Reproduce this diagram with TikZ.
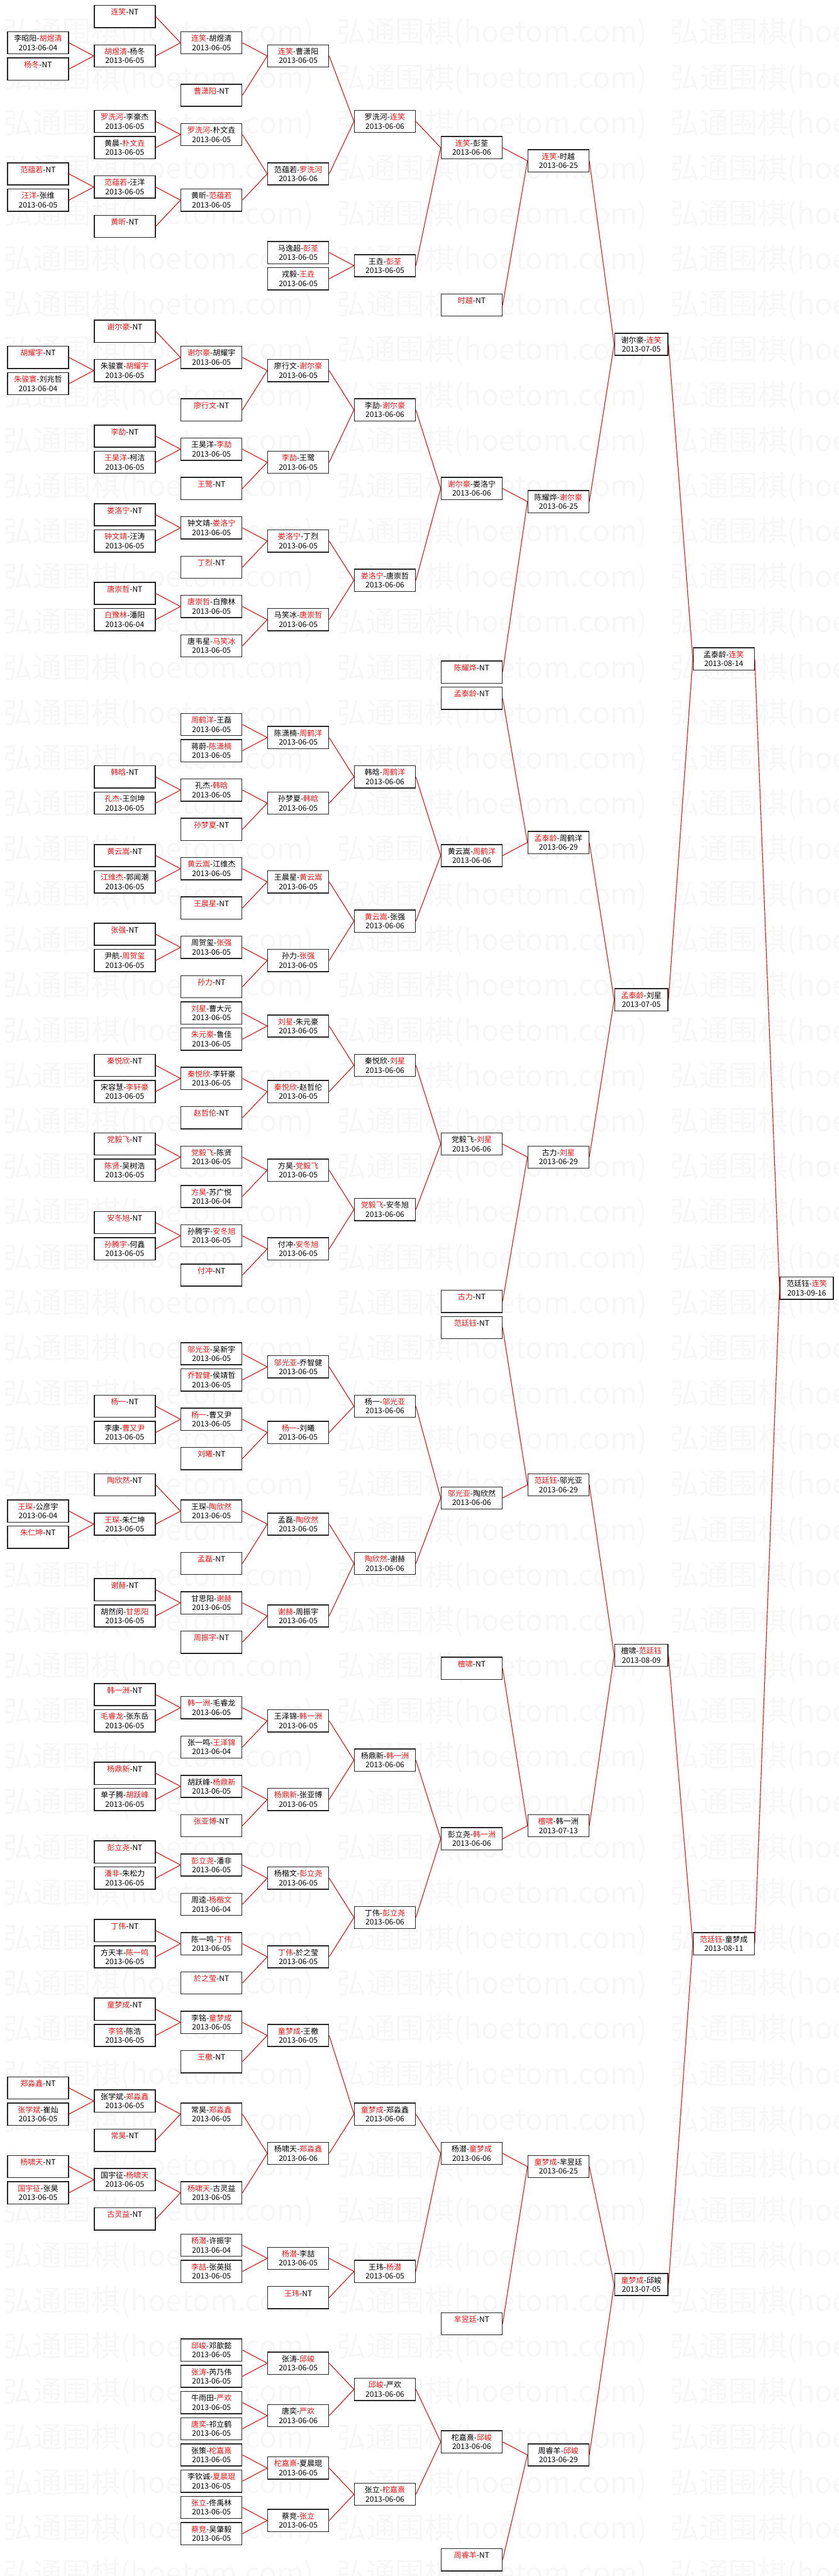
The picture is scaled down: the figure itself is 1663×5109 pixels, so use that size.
\documentclass[tikz,border=0pt]{standalone}
\usepackage{fontspec}
\setmainfont{Noto Sans CJK SC}
\usepackage{xcolor}
\usepackage{tikz}
\usetikzlibrary{positioning}
\definecolor{winred}{RGB}{235,20,20}
\definecolor{markgray}{RGB}{247,247,247}
\newcommand{\win}[1]{\textcolor{winred}{#1}}
\newcommand{\bxs}{\rule[-3pt]{0pt}{18pt}}
\newcommand{\pair}[2]{\bxs#1\\\bxs#2}
\newcommand{\bye}[1]{\pair{\win{#1}-NT}{}}

\begin{document}
\begin{tikzpicture}[
  x=1pt, y=-26pt,
  font=\fontsize{15}{18}\selectfont,
  every node/.style={align=center},
  matchbox/.style={draw=black!85, line width=1.8pt, fill=white, minimum width=121pt,
                   minimum height=44pt, inner sep=0pt, anchor=north west, yshift=-10pt},
  narrowbox/.style={matchbox, minimum width=106pt},
  winline/.style={draw=winred, line width=1.4pt},
  watermark/.style={text=markgray, font=\fontsize{58}{58}\selectfont, anchor=west, inner sep=0pt},
]
\useasboundingbox (0pt,0pt) rectangle (1663pt,-5109pt);

%% Watermark rows
\begin{scope}[x=1pt, y=-1pt]
  \clip (0,0) rectangle (1663,5109);
  \foreach \k in {0,...,56}
    \foreach \c in {0,1,2}
      \node[watermark] (wm\k-\c) at ({7+661*\c},{66+90*\k}) {弘通围棋(hoetom.com)};
\end{scope}

%% Column 0
\node[matchbox] (m0r2) at (14,2) {\pair{李昭阳-\win{胡煜清}}{2013-06-04}};
\node[matchbox] (m0r4) at (14,4) {\bye{杨冬}};
\node[matchbox] (m0r12) at (14,12) {\bye{范蕴若}};
\node[matchbox] (m0r14) at (14,14) {\pair{\win{汪洋}-张维}{2013-06-05}};
\node[matchbox] (m0r26) at (14,26) {\bye{胡耀宇}};
\node[matchbox] (m0r28) at (14,28) {\pair{\win{朱骏寰}-刘兆哲}{2013-06-04}};
\node[matchbox] (m0r114) at (14,114) {\pair{\win{王琛}-公彦宇}{2013-06-04}};
\node[matchbox] (m0r116) at (14,116) {\bye{朱仁坤}};
\node[matchbox] (m0r158) at (14,158) {\bye{郑淼鑫}};
\node[matchbox] (m0r160) at (14,160) {\pair{\win{张学斌}-崔灿}{2013-06-05}};
\node[matchbox] (m0r164) at (14,164) {\bye{杨啸天}};
\node[matchbox] (m0r166) at (14,166) {\pair{\win{国宇征}-张昊}{2013-06-05}};

%% Column 1
\node[matchbox] (m1r0) at (186,0) {\bye{连笑}};
\node[matchbox] (m1r3) at (186,3) {\pair{\win{胡煜清}-杨冬}{2013-06-05}};
\node[matchbox] (m1r8) at (186,8) {\pair{\win{罗洗河}-李豪杰}{2013-06-05}};
\node[matchbox] (m1r10) at (186,10) {\pair{黄晨-\win{朴文垚}}{2013-06-05}};
\node[matchbox] (m1r13) at (186,13) {\pair{\win{范蕴若}-汪洋}{2013-06-05}};
\node[matchbox] (m1r16) at (186,16) {\bye{黄昕}};
\node[matchbox] (m1r24) at (186,24) {\bye{谢尔豪}};
\node[matchbox] (m1r27) at (186,27) {\pair{朱骏寰-\win{胡耀宇}}{2013-06-05}};
\node[matchbox] (m1r32) at (186,32) {\bye{李劼}};
\node[matchbox] (m1r34) at (186,34) {\pair{\win{王昊洋}-柯洁}{2013-06-05}};
\node[matchbox] (m1r38) at (186,38) {\bye{娄洛宁}};
\node[matchbox] (m1r40) at (186,40) {\pair{\win{钟文靖}-汪涛}{2013-06-05}};
\node[matchbox] (m1r44) at (186,44) {\bye{唐崇哲}};
\node[matchbox] (m1r46) at (186,46) {\pair{\win{白豫林}-潘阳}{2013-06-04}};
\node[matchbox] (m1r58) at (186,58) {\bye{韩晗}};
\node[matchbox] (m1r60) at (186,60) {\pair{\win{孔杰}-王剑坤}{2013-06-05}};
\node[matchbox] (m1r64) at (186,64) {\bye{黄云嵩}};
\node[matchbox] (m1r66) at (186,66) {\pair{\win{江维杰}-郭闻潮}{2013-06-05}};
\node[matchbox] (m1r70) at (186,70) {\bye{张强}};
\node[matchbox] (m1r72) at (186,72) {\pair{尹航-\win{周贺玺}}{2013-06-05}};
\node[matchbox] (m1r80) at (186,80) {\bye{秦悦欣}};
\node[matchbox] (m1r82) at (186,82) {\pair{宋容慧-\win{李轩豪}}{2013-06-05}};
\node[matchbox] (m1r86) at (186,86) {\bye{党毅飞}};
\node[matchbox] (m1r88) at (186,88) {\pair{\win{陈贤}-吴树浩}{2013-06-05}};
\node[matchbox] (m1r92) at (186,92) {\bye{安冬旭}};
\node[matchbox] (m1r94) at (186,94) {\pair{\win{孙腾宇}-何鑫}{2013-06-05}};
\node[matchbox] (m1r106) at (186,106) {\bye{杨一}};
\node[matchbox] (m1r108) at (186,108) {\pair{李康-\win{曹又尹}}{2013-06-05}};
\node[matchbox] (m1r112) at (186,112) {\bye{陶欣然}};
\node[matchbox] (m1r115) at (186,115) {\pair{\win{王琛}-朱仁坤}{2013-06-05}};
\node[matchbox] (m1r120) at (186,120) {\bye{谢赫}};
\node[matchbox] (m1r122) at (186,122) {\pair{胡然闵-\win{甘思阳}}{2013-06-05}};
\node[matchbox] (m1r128) at (186,128) {\bye{韩一洲}};
\node[matchbox] (m1r130) at (186,130) {\pair{\win{毛睿龙}-张东岳}{2013-06-05}};
\node[matchbox] (m1r134) at (186,134) {\bye{杨鼎新}};
\node[matchbox] (m1r136) at (186,136) {\pair{单子腾-\win{胡跃峰}}{2013-06-05}};
\node[matchbox] (m1r140) at (186,140) {\bye{彭立尧}};
\node[matchbox] (m1r142) at (186,142) {\pair{\win{潘非}-朱松力}{2013-06-05}};
\node[matchbox] (m1r146) at (186,146) {\bye{丁伟}};
\node[matchbox] (m1r148) at (186,148) {\pair{方天丰-\win{陈一鸣}}{2013-06-05}};
\node[matchbox] (m1r152) at (186,152) {\bye{童梦成}};
\node[matchbox] (m1r154) at (186,154) {\pair{\win{李铭}-陈浩}{2013-06-05}};
\node[matchbox] (m1r159) at (186,159) {\pair{张学斌-\win{郑淼鑫}}{2013-06-05}};
\node[matchbox] (m1r162) at (186,162) {\bye{常昊}};
\node[matchbox] (m1r165) at (186,165) {\pair{国宇征-\win{杨啸天}}{2013-06-05}};
\node[matchbox] (m1r168) at (186,168) {\bye{古灵益}};

%% Column 2
\node[matchbox] (m2r2) at (358,2) {\pair{\win{连笑}-胡煜清}{2013-06-05}};
\node[matchbox] (m2r6) at (358,6) {\bye{曹潇阳}};
\node[matchbox] (m2r9) at (358,9) {\pair{\win{罗洗河}-朴文垚}{2013-06-05}};
\node[matchbox] (m2r14) at (358,14) {\pair{黄昕-\win{范蕴若}}{2013-06-05}};
\node[matchbox] (m2r26) at (358,26) {\pair{\win{谢尔豪}-胡耀宇}{2013-06-05}};
\node[matchbox] (m2r30) at (358,30) {\bye{廖行文}};
\node[matchbox] (m2r33) at (358,33) {\pair{王昊洋-\win{李劼}}{2013-06-05}};
\node[matchbox] (m2r36) at (358,36) {\bye{王鹭}};
\node[matchbox] (m2r39) at (358,39) {\pair{钟文靖-\win{娄洛宁}}{2013-06-05}};
\node[matchbox] (m2r42) at (358,42) {\bye{丁烈}};
\node[matchbox] (m2r45) at (358,45) {\pair{\win{唐崇哲}-白豫林}{2013-06-05}};
\node[matchbox] (m2r48) at (358,48) {\pair{唐韦星-\win{马笑冰}}{2013-06-05}};
\node[matchbox] (m2r54) at (358,54) {\pair{\win{周鹤洋}-王磊}{2013-06-05}};
\node[matchbox] (m2r56) at (358,56) {\pair{蒋蔚-\win{陈潇楠}}{2013-06-05}};
\node[matchbox] (m2r59) at (358,59) {\pair{孔杰-\win{韩晗}}{2013-06-05}};
\node[matchbox] (m2r62) at (358,62) {\bye{孙梦夏}};
\node[matchbox] (m2r65) at (358,65) {\pair{\win{黄云嵩}-江维杰}{2013-06-05}};
\node[matchbox] (m2r68) at (358,68) {\bye{王晨星}};
\node[matchbox] (m2r71) at (358,71) {\pair{周贺玺-\win{张强}}{2013-06-05}};
\node[matchbox] (m2r74) at (358,74) {\bye{孙力}};
\node[matchbox] (m2r76) at (358,76) {\pair{\win{刘星}-曹大元}{2013-06-05}};
\node[matchbox] (m2r78) at (358,78) {\pair{\win{朱元豪}-鲁佳}{2013-06-05}};
\node[matchbox] (m2r81) at (358,81) {\pair{\win{秦悦欣}-李轩豪}{2013-06-05}};
\node[matchbox] (m2r84) at (358,84) {\bye{赵哲伦}};
\node[matchbox] (m2r87) at (358,87) {\pair{\win{党毅飞}-陈贤}{2013-06-05}};
\node[matchbox] (m2r90) at (358,90) {\pair{\win{方昊}-苏广悦}{2013-06-04}};
\node[matchbox] (m2r93) at (358,93) {\pair{孙腾宇-\win{安冬旭}}{2013-06-05}};
\node[matchbox] (m2r96) at (358,96) {\bye{付冲}};
\node[matchbox] (m2r102) at (358,102) {\pair{\win{邬光亚}-吴新宇}{2013-06-05}};
\node[matchbox] (m2r104) at (358,104) {\pair{\win{乔智健}-侯靖哲}{2013-06-05}};
\node[matchbox] (m2r107) at (358,107) {\pair{\win{杨一}-曹又尹}{2013-06-05}};
\node[matchbox] (m2r110) at (358,110) {\bye{刘曦}};
\node[matchbox] (m2r114) at (358,114) {\pair{王琛-\win{陶欣然}}{2013-06-05}};
\node[matchbox] (m2r118) at (358,118) {\bye{孟磊}};
\node[matchbox] (m2r121) at (358,121) {\pair{甘思阳-\win{谢赫}}{2013-06-05}};
\node[matchbox] (m2r124) at (358,124) {\bye{周振宇}};
\node[matchbox] (m2r129) at (358,129) {\pair{\win{韩一洲}-毛睿龙}{2013-06-05}};
\node[matchbox] (m2r132) at (358,132) {\pair{张一鸣-\win{王泽锦}}{2013-06-04}};
\node[matchbox] (m2r135) at (358,135) {\pair{胡跃峰-\win{杨鼎新}}{2013-06-05}};
\node[matchbox] (m2r138) at (358,138) {\bye{张亚博}};
\node[matchbox] (m2r141) at (358,141) {\pair{\win{彭立尧}-潘非}{2013-06-05}};
\node[matchbox] (m2r144) at (358,144) {\pair{周逵-\win{杨楷文}}{2013-06-04}};
\node[matchbox] (m2r147) at (358,147) {\pair{陈一鸣-\win{丁伟}}{2013-06-05}};
\node[matchbox] (m2r150) at (358,150) {\bye{於之莹}};
\node[matchbox] (m2r153) at (358,153) {\pair{李铭-\win{童梦成}}{2013-06-05}};
\node[matchbox] (m2r156) at (358,156) {\bye{王檄}};
\node[matchbox] (m2r160) at (358,160) {\pair{常昊-\win{郑淼鑫}}{2013-06-05}};
\node[matchbox] (m2r166) at (358,166) {\pair{\win{杨啸天}-古灵益}{2013-06-05}};
\node[matchbox] (m2r170) at (358,170) {\pair{\win{杨潜}-许振宇}{2013-06-04}};
\node[matchbox] (m2r172) at (358,172) {\pair{\win{李喆}-张英挺}{2013-06-05}};
\node[matchbox] (m2r178) at (358,178) {\pair{\win{邱峻}-邓歆懿}{2013-06-05}};
\node[matchbox] (m2r180) at (358,180) {\pair{\win{张涛}-芮乃伟}{2013-06-05}};
\node[matchbox] (m2r182) at (358,182) {\pair{牛雨田-\win{严欢}}{2013-06-05}};
\node[matchbox] (m2r184) at (358,184) {\pair{\win{唐奕}-祁立鹤}{2013-06-05}};
\node[matchbox] (m2r186) at (358,186) {\pair{张策-\win{柁嘉熹}}{2013-06-05}};
\node[matchbox] (m2r188) at (358,188) {\pair{李钦诚-\win{夏晨琨}}{2013-06-05}};
\node[matchbox] (m2r190) at (358,190) {\pair{\win{张立}-佟禹林}{2013-06-05}};
\node[matchbox] (m2r192) at (358,192) {\pair{\win{蔡竞}-吴肇毅}{2013-06-05}};

%% Column 3
\node[matchbox] (m3r3) at (530,3) {\pair{\win{连笑}-曹潇阳}{2013-06-05}};
\node[matchbox] (m3r12) at (530,12) {\pair{范蕴若-\win{罗洗河}}{2013-06-06}};
\node[matchbox] (m3r18) at (530,18) {\pair{马逸超-\win{彭荃}}{2013-06-05}};
\node[matchbox] (m3r20) at (530,20) {\pair{戎毅-\win{王垚}}{2013-06-05}};
\node[matchbox] (m3r27) at (530,27) {\pair{廖行文-\win{谢尔豪}}{2013-06-05}};
\node[matchbox] (m3r34) at (530,34) {\pair{\win{李劼}-王鹭}{2013-06-05}};
\node[matchbox] (m3r40) at (530,40) {\pair{\win{娄洛宁}-丁烈}{2013-06-05}};
\node[matchbox] (m3r46) at (530,46) {\pair{马笑冰-\win{唐崇哲}}{2013-06-05}};
\node[matchbox] (m3r55) at (530,55) {\pair{陈潇楠-\win{周鹤洋}}{2013-06-05}};
\node[matchbox] (m3r60) at (530,60) {\pair{孙梦夏-\win{韩晗}}{2013-06-05}};
\node[matchbox] (m3r66) at (530,66) {\pair{王晨星-\win{黄云嵩}}{2013-06-05}};
\node[matchbox] (m3r72) at (530,72) {\pair{孙力-\win{张强}}{2013-06-05}};
\node[matchbox] (m3r77) at (530,77) {\pair{\win{刘星}-朱元豪}{2013-06-05}};
\node[matchbox] (m3r82) at (530,82) {\pair{\win{秦悦欣}-赵哲伦}{2013-06-05}};
\node[matchbox] (m3r88) at (530,88) {\pair{方昊-\win{党毅飞}}{2013-06-05}};
\node[matchbox] (m3r94) at (530,94) {\pair{付冲-\win{安冬旭}}{2013-06-05}};
\node[matchbox] (m3r103) at (530,103) {\pair{\win{邬光亚}-乔智健}{2013-06-05}};
\node[matchbox] (m3r108) at (530,108) {\pair{\win{杨一}-刘曦}{2013-06-05}};
\node[matchbox] (m3r115) at (530,115) {\pair{孟磊-\win{陶欣然}}{2013-06-05}};
\node[matchbox] (m3r122) at (530,122) {\pair{\win{谢赫}-周振宇}{2013-06-05}};
\node[matchbox] (m3r130) at (530,130) {\pair{王泽锦-\win{韩一洲}}{2013-06-05}};
\node[matchbox] (m3r136) at (530,136) {\pair{\win{杨鼎新}-张亚博}{2013-06-05}};
\node[matchbox] (m3r142) at (530,142) {\pair{杨楷文-\win{彭立尧}}{2013-06-05}};
\node[matchbox] (m3r148) at (530,148) {\pair{\win{丁伟}-於之莹}{2013-06-05}};
\node[matchbox] (m3r154) at (530,154) {\pair{\win{童梦成}-王檄}{2013-06-05}};
\node[matchbox] (m3r163) at (530,163) {\pair{杨啸天-\win{郑淼鑫}}{2013-06-06}};
\node[matchbox] (m3r171) at (530,171) {\pair{\win{杨潜}-李喆}{2013-06-05}};
\node[matchbox] (m3r174) at (530,174) {\bye{王玮}};
\node[matchbox] (m3r179) at (530,179) {\pair{张涛-\win{邱峻}}{2013-06-05}};
\node[matchbox] (m3r183) at (530,183) {\pair{唐奕-\win{严欢}}{2013-06-06}};
\node[matchbox] (m3r187) at (530,187) {\pair{\win{柁嘉熹}-夏晨琨}{2013-06-05}};
\node[matchbox] (m3r191) at (530,191) {\pair{蔡竞-\win{张立}}{2013-06-05}};

%% Column 4
\node[matchbox] (m4r8) at (702,8) {\pair{罗洗河-\win{连笑}}{2013-06-06}};
\node[matchbox] (m4r19) at (702,19) {\pair{王垚-\win{彭荃}}{2013-06-05}};
\node[matchbox] (m4r30) at (702,30) {\pair{李劼-\win{谢尔豪}}{2013-06-06}};
\node[matchbox] (m4r43) at (702,43) {\pair{\win{娄洛宁}-唐崇哲}{2013-06-06}};
\node[matchbox] (m4r58) at (702,58) {\pair{韩晗-\win{周鹤洋}}{2013-06-06}};
\node[matchbox] (m4r69) at (702,69) {\pair{\win{黄云嵩}-张强}{2013-06-06}};
\node[matchbox] (m4r80) at (702,80) {\pair{秦悦欣-\win{刘星}}{2013-06-06}};
\node[matchbox] (m4r91) at (702,91) {\pair{\win{党毅飞}-安冬旭}{2013-06-06}};
\node[matchbox] (m4r106) at (702,106) {\pair{杨一-\win{邬光亚}}{2013-06-06}};
\node[matchbox] (m4r118) at (702,118) {\pair{\win{陶欣然}-谢赫}{2013-06-06}};
\node[matchbox] (m4r133) at (702,133) {\pair{杨鼎新-\win{韩一洲}}{2013-06-06}};
\node[matchbox] (m4r145) at (702,145) {\pair{丁伟-\win{彭立尧}}{2013-06-06}};
\node[matchbox] (m4r160) at (702,160) {\pair{\win{童梦成}-郑淼鑫}{2013-06-06}};
\node[matchbox] (m4r172) at (702,172) {\pair{王玮-\win{杨潜}}{2013-06-05}};
\node[matchbox] (m4r181) at (702,181) {\pair{\win{邱峻}-严欢}{2013-06-06}};
\node[matchbox] (m4r189) at (702,189) {\pair{张立-\win{柁嘉熹}}{2013-06-06}};

%% Column 5
\node[matchbox] (m5r10) at (874,10) {\pair{\win{连笑}-彭荃}{2013-06-06}};
\node[matchbox] (m5r22) at (874,22) {\bye{时越}};
\node[matchbox] (m5r36) at (874,36) {\pair{\win{谢尔豪}-娄洛宁}{2013-06-06}};
\node[matchbox] (m5r50) at (874,50) {\bye{陈耀烨}};
\node[matchbox] (m5r52) at (874,52) {\bye{孟泰龄}};
\node[matchbox] (m5r64) at (874,64) {\pair{黄云嵩-\win{周鹤洋}}{2013-06-06}};
\node[matchbox] (m5r86) at (874,86) {\pair{党毅飞-\win{刘星}}{2013-06-06}};
\node[matchbox] (m5r98) at (874,98) {\bye{古力}};
\node[matchbox] (m5r100) at (874,100) {\bye{范廷钰}};
\node[matchbox] (m5r113) at (874,113) {\pair{\win{邬光亚}-陶欣然}{2013-06-06}};
\node[matchbox] (m5r126) at (874,126) {\bye{檀啸}};
\node[matchbox] (m5r139) at (874,139) {\pair{彭立尧-\win{韩一洲}}{2013-06-06}};
\node[matchbox] (m5r163) at (874,163) {\pair{杨潜-\win{童梦成}}{2013-06-06}};
\node[matchbox] (m5r176) at (874,176) {\bye{芈昱廷}};
\node[matchbox] (m5r185) at (874,185) {\pair{柁嘉熹-\win{邱峻}}{2013-06-06}};
\node[matchbox] (m5r194) at (874,194) {\bye{周睿羊}};

%% Column 6
\node[matchbox] (m6r11) at (1046,11) {\pair{\win{连笑}-时越}{2013-06-25}};
\node[matchbox] (m6r37) at (1046,37) {\pair{陈耀烨-\win{谢尔豪}}{2013-06-25}};
\node[matchbox] (m6r63) at (1046,63) {\pair{\win{孟泰龄}-周鹤洋}{2013-06-29}};
\node[matchbox] (m6r87) at (1046,87) {\pair{古力-\win{刘星}}{2013-06-29}};
\node[matchbox] (m6r112) at (1046,112) {\pair{\win{范廷钰}-邬光亚}{2013-06-29}};
\node[matchbox] (m6r138) at (1046,138) {\pair{\win{檀啸}-韩一洲}{2013-07-13}};
\node[matchbox] (m6r164) at (1046,164) {\pair{\win{童梦成}-芈昱廷}{2013-06-25}};
\node[matchbox] (m6r186) at (1046,186) {\pair{周睿羊-\win{邱峻}}{2013-06-29}};

%% Column 7
\node[narrowbox] (m7r25) at (1218,25) {\pair{谢尔豪-\win{连笑}}{2013-07-05}};
\node[narrowbox] (m7r75) at (1218,75) {\pair{\win{孟泰龄}-刘星}{2013-07-05}};
\node[narrowbox] (m7r125) at (1218,125) {\pair{檀啸-\win{范廷钰}}{2013-08-09}};
\node[narrowbox] (m7r173) at (1218,173) {\pair{\win{童梦成}-邱峻}{2013-07-05}};

%% Column 8 and final
\node[matchbox] (m8r49) at (1374,49) {\pair{孟泰龄-\win{连笑}}{2013-08-14}};
\node[matchbox] (m8r147) at (1374,147) {\pair{\win{范廷钰}-童梦成}{2013-08-11}};
\node[narrowbox] (m9r97) at (1546,97) {\pair{范廷钰-\win{连笑}}{2013-09-16}};

%% Connectors
\draw[winline] (m0r2.east) -- (m1r3.west) (m0r4.east) -- (m1r3.west);
\draw[winline] (m0r12.east) -- (m1r13.west) (m0r14.east) -- (m1r13.west);
\draw[winline] (m0r26.east) -- (m1r27.west) (m0r28.east) -- (m1r27.west);
\draw[winline] (m0r114.east) -- (m1r115.west) (m0r116.east) -- (m1r115.west);
\draw[winline] (m0r158.east) -- (m1r159.west) (m0r160.east) -- (m1r159.west);
\draw[winline] (m0r164.east) -- (m1r165.west) (m0r166.east) -- (m1r165.west);

\draw[winline] (m1r0.east) -- (m2r2.west) (m1r3.east) -- (m2r2.west);
\draw[winline] (m1r8.east) -- (m2r9.west) (m1r10.east) -- (m2r9.west);
\draw[winline] (m1r13.east) -- (m2r14.west) (m1r16.east) -- (m2r14.west);
\draw[winline] (m1r24.east) -- (m2r26.west) (m1r27.east) -- (m2r26.west);
\draw[winline] (m1r32.east) -- (m2r33.west) (m1r34.east) -- (m2r33.west);
\draw[winline] (m1r38.east) -- (m2r39.west) (m1r40.east) -- (m2r39.west);
\draw[winline] (m1r44.east) -- (m2r45.west) (m1r46.east) -- (m2r45.west);
\draw[winline] (m1r58.east) -- (m2r59.west) (m1r60.east) -- (m2r59.west);
\draw[winline] (m1r64.east) -- (m2r65.west) (m1r66.east) -- (m2r65.west);
\draw[winline] (m1r70.east) -- (m2r71.west) (m1r72.east) -- (m2r71.west);
\draw[winline] (m1r80.east) -- (m2r81.west) (m1r82.east) -- (m2r81.west);
\draw[winline] (m1r86.east) -- (m2r87.west) (m1r88.east) -- (m2r87.west);
\draw[winline] (m1r92.east) -- (m2r93.west) (m1r94.east) -- (m2r93.west);
\draw[winline] (m1r106.east) -- (m2r107.west) (m1r108.east) -- (m2r107.west);
\draw[winline] (m1r112.east) -- (m2r114.west) (m1r115.east) -- (m2r114.west);
\draw[winline] (m1r120.east) -- (m2r121.west) (m1r122.east) -- (m2r121.west);
\draw[winline] (m1r128.east) -- (m2r129.west) (m1r130.east) -- (m2r129.west);
\draw[winline] (m1r134.east) -- (m2r135.west) (m1r136.east) -- (m2r135.west);
\draw[winline] (m1r140.east) -- (m2r141.west) (m1r142.east) -- (m2r141.west);
\draw[winline] (m1r146.east) -- (m2r147.west) (m1r148.east) -- (m2r147.west);
\draw[winline] (m1r152.east) -- (m2r153.west) (m1r154.east) -- (m2r153.west);
\draw[winline] (m1r159.east) -- (m2r160.west) (m1r162.east) -- (m2r160.west);
\draw[winline] (m1r165.east) -- (m2r166.west) (m1r168.east) -- (m2r166.west);

\draw[winline] (m2r2.east) -- (m3r3.west) (m2r6.east) -- (m3r3.west);
\draw[winline] (m2r9.east) -- (m3r12.west) (m2r14.east) -- (m3r12.west);
\draw[winline] (m2r26.east) -- (m3r27.west) (m2r30.east) -- (m3r27.west);
\draw[winline] (m2r33.east) -- (m3r34.west) (m2r36.east) -- (m3r34.west);
\draw[winline] (m2r39.east) -- (m3r40.west) (m2r42.east) -- (m3r40.west);
\draw[winline] (m2r45.east) -- (m3r46.west) (m2r48.east) -- (m3r46.west);
\draw[winline] (m2r54.east) -- (m3r55.west) (m2r56.east) -- (m3r55.west);
\draw[winline] (m2r59.east) -- (m3r60.west) (m2r62.east) -- (m3r60.west);
\draw[winline] (m2r65.east) -- (m3r66.west) (m2r68.east) -- (m3r66.west);
\draw[winline] (m2r71.east) -- (m3r72.west) (m2r74.east) -- (m3r72.west);
\draw[winline] (m2r76.east) -- (m3r77.west) (m2r78.east) -- (m3r77.west);
\draw[winline] (m2r81.east) -- (m3r82.west) (m2r84.east) -- (m3r82.west);
\draw[winline] (m2r87.east) -- (m3r88.west) (m2r90.east) -- (m3r88.west);
\draw[winline] (m2r93.east) -- (m3r94.west) (m2r96.east) -- (m3r94.west);
\draw[winline] (m2r102.east) -- (m3r103.west) (m2r104.east) -- (m3r103.west);
\draw[winline] (m2r107.east) -- (m3r108.west) (m2r110.east) -- (m3r108.west);
\draw[winline] (m2r114.east) -- (m3r115.west) (m2r118.east) -- (m3r115.west);
\draw[winline] (m2r121.east) -- (m3r122.west) (m2r124.east) -- (m3r122.west);
\draw[winline] (m2r129.east) -- (m3r130.west) (m2r132.east) -- (m3r130.west);
\draw[winline] (m2r135.east) -- (m3r136.west) (m2r138.east) -- (m3r136.west);
\draw[winline] (m2r141.east) -- (m3r142.west) (m2r144.east) -- (m3r142.west);
\draw[winline] (m2r147.east) -- (m3r148.west) (m2r150.east) -- (m3r148.west);
\draw[winline] (m2r153.east) -- (m3r154.west) (m2r156.east) -- (m3r154.west);
\draw[winline] (m2r160.east) -- (m3r163.west) (m2r166.east) -- (m3r163.west);
\draw[winline] (m2r170.east) -- (m3r171.west) (m2r172.east) -- (m3r171.west);
\draw[winline] (m2r178.east) -- (m3r179.west) (m2r180.east) -- (m3r179.west);
\draw[winline] (m2r182.east) -- (m3r183.west) (m2r184.east) -- (m3r183.west);
\draw[winline] (m2r186.east) -- (m3r187.west) (m2r188.east) -- (m3r187.west);
\draw[winline] (m2r190.east) -- (m3r191.west) (m2r192.east) -- (m3r191.west);

\draw[winline] (m3r3.east) -- (m4r8.west) (m3r12.east) -- (m4r8.west);
\draw[winline] (m3r18.east) -- (m4r19.west) (m3r20.east) -- (m4r19.west);
\draw[winline] (m3r27.east) -- (m4r30.west) (m3r34.east) -- (m4r30.west);
\draw[winline] (m3r40.east) -- (m4r43.west) (m3r46.east) -- (m4r43.west);
\draw[winline] (m3r55.east) -- (m4r58.west) (m3r60.east) -- (m4r58.west);
\draw[winline] (m3r66.east) -- (m4r69.west) (m3r72.east) -- (m4r69.west);
\draw[winline] (m3r77.east) -- (m4r80.west) (m3r82.east) -- (m4r80.west);
\draw[winline] (m3r88.east) -- (m4r91.west) (m3r94.east) -- (m4r91.west);
\draw[winline] (m3r103.east) -- (m4r106.west) (m3r108.east) -- (m4r106.west);
\draw[winline] (m3r115.east) -- (m4r118.west) (m3r122.east) -- (m4r118.west);
\draw[winline] (m3r130.east) -- (m4r133.west) (m3r136.east) -- (m4r133.west);
\draw[winline] (m3r142.east) -- (m4r145.west) (m3r148.east) -- (m4r145.west);
\draw[winline] (m3r154.east) -- (m4r160.west) (m3r163.east) -- (m4r160.west);
\draw[winline] (m3r171.east) -- (m4r172.west) (m3r174.east) -- (m4r172.west);
\draw[winline] (m3r179.east) -- (m4r181.west) (m3r183.east) -- (m4r181.west);
\draw[winline] (m3r187.east) -- (m4r189.west) (m3r191.east) -- (m4r189.west);

\draw[winline] (m4r8.east) -- (m5r10.west) (m4r19.east) -- (m5r10.west);
\draw[winline] (m4r30.east) -- (m5r36.west) (m4r43.east) -- (m5r36.west);
\draw[winline] (m4r58.east) -- (m5r64.west) (m4r69.east) -- (m5r64.west);
\draw[winline] (m4r80.east) -- (m5r86.west) (m4r91.east) -- (m5r86.west);
\draw[winline] (m4r106.east) -- (m5r113.west) (m4r118.east) -- (m5r113.west);
\draw[winline] (m4r133.east) -- (m5r139.west) (m4r145.east) -- (m5r139.west);
\draw[winline] (m4r160.east) -- (m5r163.west) (m4r172.east) -- (m5r163.west);
\draw[winline] (m4r181.east) -- (m5r185.west) (m4r189.east) -- (m5r185.west);

\draw[winline] (m5r10.east) -- (m6r11.west) (m5r22.east) -- (m6r11.west);
\draw[winline] (m5r36.east) -- (m6r37.west) (m5r50.east) -- (m6r37.west);
\draw[winline] (m5r52.east) -- (m6r63.west) (m5r64.east) -- (m6r63.west);
\draw[winline] (m5r86.east) -- (m6r87.west) (m5r98.east) -- (m6r87.west);
\draw[winline] (m5r100.east) -- (m6r112.west) (m5r113.east) -- (m6r112.west);
\draw[winline] (m5r126.east) -- (m6r138.west) (m5r139.east) -- (m6r138.west);
\draw[winline] (m5r163.east) -- (m6r164.west) (m5r176.east) -- (m6r164.west);
\draw[winline] (m5r185.east) -- (m6r186.west) (m5r194.east) -- (m6r186.west);

\draw[winline] (m6r11.east) -- (m7r25.west) (m6r37.east) -- (m7r25.west);
\draw[winline] (m6r63.east) -- (m7r75.west) (m6r87.east) -- (m7r75.west);
\draw[winline] (m6r112.east) -- (m7r125.west) (m6r138.east) -- (m7r125.west);
\draw[winline] (m6r164.east) -- (m7r173.west) (m6r186.east) -- (m7r173.west);

\draw[winline] (m7r25.east) -- (m8r49.west) (m7r75.east) -- (m8r49.west);
\draw[winline] (m7r125.east) -- (m8r147.west) (m7r173.east) -- (m8r147.west);
\draw[winline] (m8r49.east) -- (m9r97.west) (m8r147.east) -- (m9r97.west);

\end{tikzpicture}
\end{document}
